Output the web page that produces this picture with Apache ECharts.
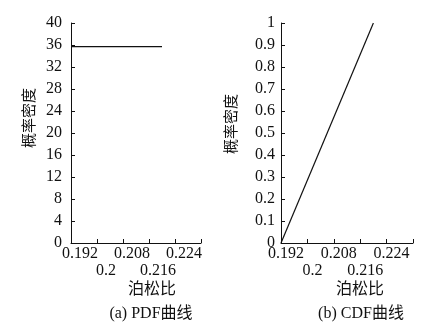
<!DOCTYPE html>
<html>
<head>
<meta charset="utf-8">
<script src="https://cdn.jsdelivr.net/npm/echarts@6/dist/echarts.min.js"></script>
<style>
  html, body { margin: 0; padding: 0; background: #fff; }
  #chart { width: 440px; height: 325px; }
</style>
</head>
<body>
<div id="chart"></div>
<script>
// uniform distribution of Poisson's ratio on [0.192, 0.22]
var pdfX = [0.192, 0.22];
var pdfY = [35.71, 35.71];
var cdfX = [0.192, 0.22];
var cdfY = [0, 1];
var xTickLabels = ['0.192', '0.2', '0.208', '0.216', '0.224', ''];
var yName = '概率密度';
var xName = '泊松比';
var captions = ['(a) PDF曲线', '(b) CDF曲线'];

var font = "'Liberation Serif', 'Noto Sans CJK SC', serif";
var ink = '#111';

// axis with line, ticks and name, labels drawn by the helper axes below
function xAxisOf(gridIndex, nameShift) {
  return {
    gridIndex: gridIndex,
    type: 'value',
    min: 0.192,
    max: 0.232,
    interval: 0.008,
    name: xName,
    nameLocation: 'middle',
    nameGap: 39,
    nameTextStyle: { color: ink, fontFamily: font, fontSize: 16, padding: [0, 0, 0, nameShift] },
    axisLine: { show: true, lineStyle: { color: ink, width: 1 } },
    axisTick: { show: true, inside: true, length: 4, lineStyle: { color: ink } },
    splitLine: { show: false },
    axisLabel: { show: false }
  };
}

// label-only axis, row 0 shows even ticks, row 1 the odd ones a line lower
function xLabelAxis(gridIndex, row) {
  return {
    gridIndex: gridIndex,
    type: 'value',
    position: 'bottom',
    min: 0.192,
    max: 0.232,
    interval: 0.008,
    axisLine: { show: false },
    axisTick: { show: false },
    splitLine: { show: false },
    axisLabel: {
      color: ink,
      fontFamily: font,
      fontSize: 16,
      margin: row === 0 ? 3 : 20,
      hideOverlap: false,
      showMinLabel: true,
      showMaxLabel: true,
      formatter: function (v, i) {
        return i % 2 === row ? (xTickLabels[i] || '') : '';
      }
    }
  };
}

function yAxisOf(gridIndex, max, step, gap, nameShift, labelMargin) {
  return {
    gridIndex: gridIndex,
    type: 'value',
    min: 0,
    max: max,
    interval: step,
    name: yName,
    nameLocation: 'middle',
    nameRotate: 90,
    nameGap: gap,
    nameTextStyle: { color: ink, fontFamily: font, fontSize: 15, padding: [0, 0, 0, nameShift] },
    axisLine: { show: true, lineStyle: { color: ink, width: 1 } },
    axisTick: { show: true, inside: true, length: 4, lineStyle: { color: ink } },
    splitLine: { show: false },
    axisLabel: {
      color: ink,
      fontFamily: font,
      fontSize: 16,
      margin: labelMargin,
      showMinLabel: true,
      showMaxLabel: true
    }
  };
}

var chart = echarts.init(document.getElementById('chart'));
chart.setOption({
  backgroundColor: '#fff',
  animation: false,
  grid: [
    { left: 71, right: 239, top: 23, bottom: 82 },
    { left: 281, right: 27, top: 23, bottom: 82 },
    // label grids, nudged right like the original tick labels
    { left: 80, right: 230, top: 23, bottom: 82 },
    { left: 286, right: 22, top: 23, bottom: 82 }
  ],
  xAxis: [
    xAxisOf(0, 32), xAxisOf(1, 26),
    xLabelAxis(2, 0), xLabelAxis(2, 1),
    xLabelAxis(3, 0), xLabelAxis(3, 1)
  ],
  yAxis: [
    yAxisOf(0, 40, 4, 33, 30, 9),
    yAxisOf(1, 1, 0.1, 41, 18, 6),
    { gridIndex: 2, type: 'value', show: false },
    { gridIndex: 3, type: 'value', show: false }
  ],
  series: [
    {
      type: 'line',
      xAxisIndex: 0,
      yAxisIndex: 0,
      showSymbol: false,
      lineStyle: { color: ink, width: 1.2 },
      data: pdfX.map(function (x, i) { return [x, pdfY[i]]; })
    },
    {
      type: 'line',
      xAxisIndex: 1,
      yAxisIndex: 1,
      showSymbol: false,
      lineStyle: { color: ink, width: 1.2 },
      data: cdfX.map(function (x, i) { return [x, cdfY[i]]; })
    }
  ],
  graphic: [
    { type: 'text', x: 151, y: 314, style: { text: captions[0], fill: ink, font: '16px ' + font, align: 'center', verticalAlign: 'middle' } },
    { type: 'text', x: 361, y: 314, style: { text: captions[1], fill: ink, font: '16px ' + font, align: 'center', verticalAlign: 'middle' } }
  ]
});
</script>
</body>
</html>
